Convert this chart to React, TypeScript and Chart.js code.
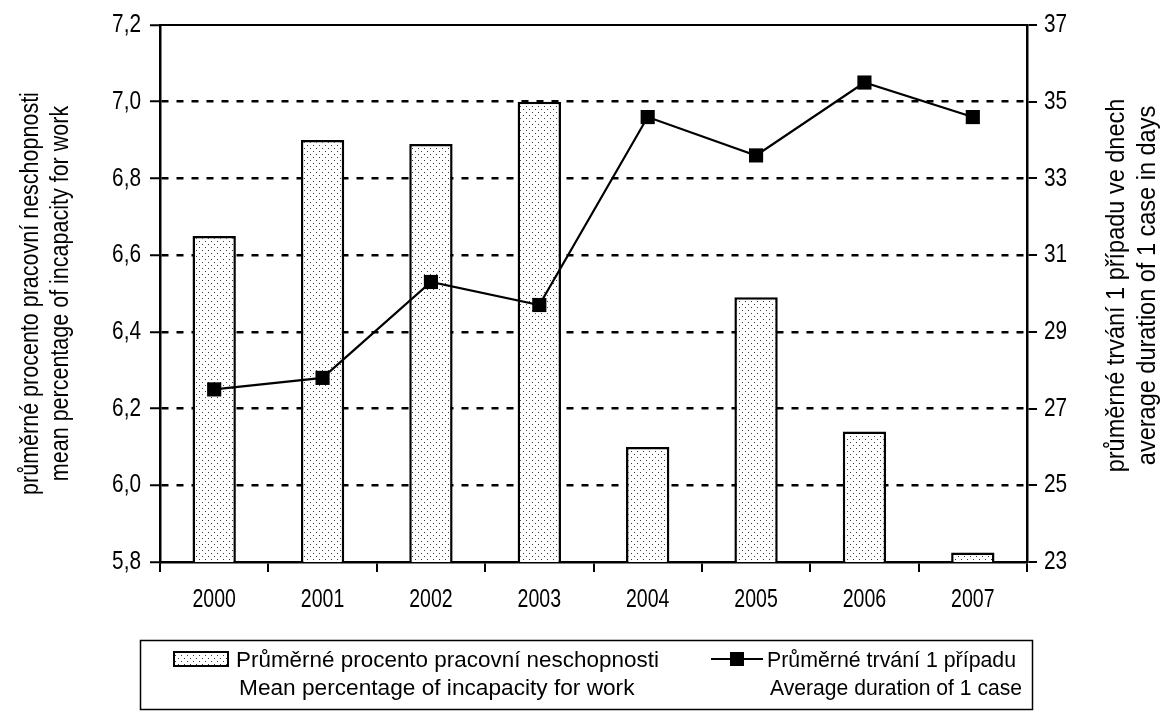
import React, { useEffect, useRef } from 'react';
import { Chart, registerables } from 'chart.js';

Chart.register(...registerables);

// ---- data ----
const years: string[] = ['2000', '2001', '2002', '2003', '2004', '2005', '2006', '2007'];
const meanPercentage: number[] = [6.65, 6.9, 6.89, 7.0, 6.1, 6.49, 6.14, 5.825];
const avgDuration: number[] = [27.5, 27.8, 30.3, 29.7, 34.6, 33.6, 35.5, 34.6];

const leftMin = 5.8;
const leftMax = 7.2;
const leftStep = 0.2;
const rightMin = 23;
const rightMax = 37;
const rightStep = 2;

const barLegend: string[] = ['Průměrné procento pracovní neschopnosti', 'Mean percentage of incapacity for work'];
const lineLegend: string[] = ['Průměrné trvání 1 případu', 'Average duration of 1 case'];
const leftTitle: string[] = ['průměrné procento pracovní neschopnosti', 'mean percentage of incapacity for work'];
const rightTitle: string[] = ['průměrné trvání 1 případu ve dnech', 'average duration of 1 case in days'];

const FONT = "'Liberation Sans', Arial, sans-serif";

function makePattern(): CanvasPattern | string {
  const c = document.createElement('canvas');
  c.width = 6;
  c.height = 6;
  const g = c.getContext('2d');
  if (!g) return '#ddd';
  g.fillStyle = '#ffffff';
  g.fillRect(0, 0, 6, 6);
  g.fillStyle = '#3a3a3a';
  g.fillRect(1, 1, 1, 1);
  g.fillRect(4, 4, 1, 1);
  return g.createPattern(c, 'repeat') || '#ddd';
}

export default function App() {
  const canvasRef = useRef<HTMLCanvasElement | null>(null);

  useEffect(() => {
    const canvas = canvasRef.current;
    if (!canvas) return;
    const pattern = makePattern();

    const drawNarrow = (
      ctx: CanvasRenderingContext2D,
      text: string,
      x: number,
      y: number,
      align: CanvasTextAlign,
      sx: number,
      rot = 0
    ) => {
      ctx.save();
      ctx.translate(x, y);
      if (rot) ctx.rotate(rot);
      ctx.scale(sx, 1);
      ctx.textAlign = align;
      ctx.textBaseline = 'middle';
      ctx.fillText(text, 0, 0);
      ctx.restore();
    };

    const decor = {
      id: 'decor',
      afterDraw(chart: any) {
        const ctx: CanvasRenderingContext2D = chart.ctx;
        const area = chart.chartArea;
        ctx.save();
        // top frame line
        ctx.strokeStyle = '#000';
        ctx.lineWidth = 2;
        ctx.beginPath();
        ctx.moveTo(area.left, area.top);
        ctx.lineTo(area.right, area.top);
        ctx.stroke();

        ctx.fillStyle = '#000';

        // tick labels (positions from the chart's own scales)
        ctx.font = `25px ${FONT}`;
        const xs = chart.scales.x;
        xs.ticks.forEach((t: any, i: number) => {
          drawNarrow(ctx, String(t.label), xs.getPixelForTick(i), xs.top + 10 + 28, 'center', 0.78);
        });
        ctx.font = `26px ${FONT}`;
        const ys = chart.scales.y;
        ys.ticks.forEach((t: any, i: number) => {
          drawNarrow(ctx, String(t.label), ys.right - 19, ys.getPixelForTick(i), 'right', 0.8);
        });
        const ys1 = chart.scales.y1;
        ys1.ticks.forEach((t: any, i: number) => {
          drawNarrow(ctx, String(t.label), ys1.left + 17, ys1.getPixelForTick(i), 'left', 0.8);
        });

        // axis titles
        ctx.font = `25px ${FONT}`;
        const cy = (area.top + area.bottom) / 2;
        drawNarrow(ctx, leftTitle[0], 31, cy, 'center', 0.86, -Math.PI / 2);
        drawNarrow(ctx, leftTitle[1], 61, cy, 'center', 0.86, -Math.PI / 2);
        drawNarrow(ctx, rightTitle[0], 1117, cy - 8, 'center', 0.94, -Math.PI / 2);
        drawNarrow(ctx, rightTitle[1], 1148, cy - 8, 'center', 0.94, -Math.PI / 2);

        // legend box
        ctx.lineWidth = 1.5;
        ctx.strokeStyle = '#000';
        ctx.strokeRect(140.5, 640.5, 892, 69);

        // bar icon
        ctx.fillStyle = pattern as any;
        ctx.fillRect(174, 652, 54, 14);
        ctx.lineWidth = 2;
        ctx.strokeRect(174, 652, 54, 14);

        ctx.fillStyle = '#000';
        ctx.font = `22px ${FONT}`;
        drawNarrow(ctx, barLegend[0], 236, 661, 'left', 1.02);
        drawNarrow(ctx, barLegend[1], 239, 689, 'left', 1.03);

        // line icon
        ctx.lineWidth = 2;
        ctx.beginPath();
        ctx.moveTo(711, 659);
        ctx.lineTo(763, 659);
        ctx.stroke();
        ctx.fillRect(730, 652, 14, 14);

        drawNarrow(ctx, lineLegend[0], 767, 661, 'left', 0.97);
        drawNarrow(ctx, lineLegend[1], 770, 689, 'left', 0.96);
        ctx.restore();
      },
    };

    const isEdge = (v: number) => Math.abs(v - leftMin) < 1e-6 || Math.abs(v - leftMax) < 1e-6;

    const chart = new Chart(canvas, {
      type: 'bar',
      data: {
        labels: years,
        datasets: [
          {
            type: 'line',
            label: lineLegend.join(' / '),
            data: avgDuration,
            yAxisID: 'y1',
            order: 0,
            borderColor: '#000',
            borderWidth: 2.2,
            tension: 0,
            pointStyle: 'rect',
            pointRadius: 10,
            pointBorderWidth: 0,
            pointBackgroundColor: '#000',
            pointBorderColor: '#000',
            fill: false,
          } as any,
          {
            type: 'bar',
            label: barLegend.join(' / '),
            data: meanPercentage,
            yAxisID: 'y',
            order: 1,
            backgroundColor: pattern as any,
            borderColor: '#000',
            borderWidth: 2.5,
            barPercentage: 0.4,
            categoryPercentage: 1,
          } as any,
        ],
      },
      options: {
        responsive: false,
        animation: false,
        devicePixelRatio: 1,
        layout: { padding: { top: 25, bottom: 89, left: 0, right: 0 } },
        plugins: {
          legend: { display: false },
          tooltip: { enabled: false },
          title: { display: false },
        },
        scales: {
          x: {
            type: 'category',
            offset: true,
            grid: {
              offset: true,
              drawOnChartArea: false,
              drawTicks: true,
              tickLength: 10,
              color: '#000',
              lineWidth: 2,
            },
            border: { display: true, color: '#000', width: 2.5 },
            ticks: { display: false },
            afterFit: (s: any) => {
              s.height = 60;
            },
          },
          y: {
            type: 'linear',
            position: 'left',
            min: leftMin,
            max: leftMax,
            ticks: {
              display: false,
              stepSize: leftStep,
              callback: (v: any) => Number(v).toFixed(1).replace('.', ','),
            },
            grid: {
              color: (c: any) => (isEdge(c.tick ? c.tick.value : 0) ? 'rgba(0,0,0,0)' : '#000'),
              lineWidth: 2.5,
              drawTicks: true,
              tickLength: 10,
              tickColor: '#000',
              tickWidth: 2,
              tickBorderDash: [],
            },
            border: { display: true, color: '#000', width: 2.5, dash: [7, 8] },
            afterFit: (s: any) => {
              s.width = 160;
            },
          },
          y1: {
            type: 'linear',
            position: 'right',
            min: rightMin,
            max: rightMax,
            ticks: {
              display: false,
              stepSize: rightStep,
            },
            grid: {
              drawOnChartArea: false,
              drawTicks: true,
              tickLength: 10,
              color: '#000',
              lineWidth: 2,
            },
            border: { display: true, color: '#000', width: 2.5 },
            afterFit: (s: any) => {
              s.width = 138;
            },
          },
        },
      },
      plugins: [decor],
    });

    return () => {
      chart.destroy();
    };
  }, []);

  return (
    <div style={{ position: 'absolute', left: 0, top: 0, width: 1165, height: 711, background: '#fff' }}>
      <canvas ref={canvasRef} width={1165} height={711} style={{ width: 1165, height: 711, display: 'block' }} />
    </div>
  );
}
